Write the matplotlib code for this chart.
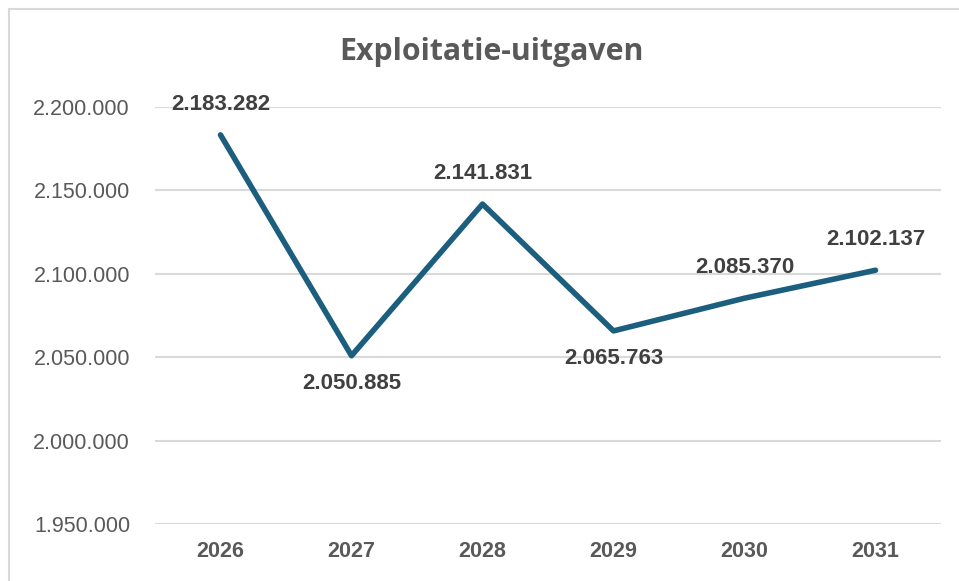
import matplotlib.pyplot as plt
from matplotlib.lines import Line2D
from matplotlib.ticker import FuncFormatter

years = ['2026', '2027', '2028', '2029', '2030', '2031']
uitgaven = [2183282, 2050885, 2141831, 2065763, 2085370, 2102137]
label_above = [True, False, True, False, True, True]
y_ticks = [1950000, 2000000, 2050000, 2100000, 2150000, 2200000]


def dutch(v, pos=None):
    return f'{int(v):,}'.replace(',', '.')


W, H = 959, 581
fig = plt.figure(figsize=(W / 100, H / 100), dpi=100)
ax = fig.add_axes([155 / W, 1 - 524 / H, (941 - 155) / W, (524 - 107) / H])

x = list(range(len(years)))
ax.plot(x, uitgaven, color='#1B5E7E', linewidth=4, solid_capstyle='round', zorder=3)

for xi, v, up in zip(x, uitgaven, label_above):
    ax.annotate(dutch(v), (xi, v), xytext=(0, 22 if up else -20), textcoords='offset points',
                ha='center', va='center', fontsize=16, fontweight='bold',
                family='Liberation Sans', color='#404040', zorder=4)

ax.set_xlim(-0.5, len(years) - 0.5)
ax.set_ylim(y_ticks[0], y_ticks[-1])
ax.set_yticks(y_ticks)
ax.yaxis.set_major_formatter(FuncFormatter(dutch))
ax.set_xticks(x)
ax.set_xticklabels(years)
ax.grid(axis='y', color='#D9D9D9', linewidth=1.5)
ax.set_axisbelow(True)
for s in ax.spines.values():
    s.set_visible(False)
ax.tick_params(length=0)
ax.tick_params(axis='y', pad=18, labelsize=15.5, labelcolor='#595959')
ax.tick_params(axis='x', pad=12, labelsize=15.5, labelcolor='#595959')
for t in ax.get_yticklabels():
    t.set_family('Liberation Sans')
for t in ax.get_xticklabels():
    t.set_family('Liberation Sans')
    t.set_fontweight('bold')

fig.text(491 / W, 1 - 52 / H, 'Exploitatie-uitgaven', ha='center', va='center',
         fontsize=21.8, fontweight='bold', family='Open Sans', color='#595959')

# chart border (top and left only visible)
fig.add_artist(Line2D([9 / W, 1], [1 - 9 / H, 1 - 9 / H], color='#D9D9D9', linewidth=1.5))
fig.add_artist(Line2D([9 / W, 9 / W], [0, 1 - 9 / H], color='#D9D9D9', linewidth=1.5))

fig.savefig('out.png', dpi=100)
